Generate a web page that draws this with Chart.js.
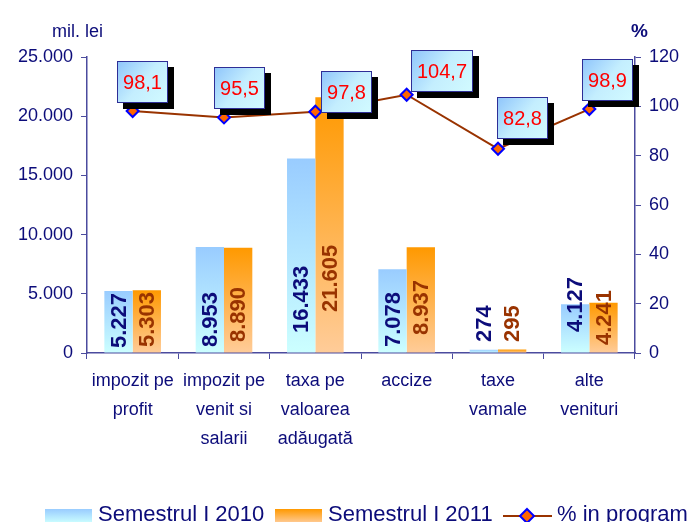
<!DOCTYPE html>
<html>
<head>
<meta charset="utf-8">
<script src="https://cdn.jsdelivr.net/npm/chart.js@4"></script>
<style>
  html, body { margin: 0; padding: 0; background: #fff; overflow: hidden; }
  #wrap { width: 691px; height: 522px; position: relative; }
</style>
</head>
<body>
<div id="wrap"><canvas id="chart" width="691" height="522"></canvas></div>
<script>
// datele graficului
const categories = [
  ['impozit pe', 'profit'],
  ['impozit pe', 'venit si', 'salarii'],
  ['taxa pe', 'valoarea', 'adăugată'],
  ['accize'],
  ['taxe', 'vamale'],
  ['alte', 'venituri']
];
const sem2010 = [5227, 8953, 16433, 7078, 274, 4127];
const sem2011 = [5303, 8890, 21605, 8937, 295, 4241];
const inProgram = [98.1, 95.5, 97.8, 104.7, 82.8, 98.9];
const leftTicks = [0, 5000, 10000, 15000, 20000, 25000];
const rightTicks = [0, 20, 40, 60, 80, 100, 120];
const seriesNames = ['Semestrul I 2010', 'Semestrul I 2011', '% in program'];

// cosmetica etichetelor (deplasari in pixeli)
const lift2010 = [5, 6, 20, 6, 11, 21];
const lift2011 = [6, 11, 41, 18, 11, 8];
const boxShift = [[10, -29], [15, -29], [31, -20], [35, -24], [24, -31], [18, -29]];

const NAVY = '#0c0c7a';
const AXIS = '#4b4b9e';
const FONT = '"Liberation Sans", Arial, sans-serif';

function fmtThousands(v) {
    return String(v).replace(/\B(?=(\d{3})+(?!\d))/g, '.');
}

function barGradient(topColor, bottomColor) {
    return function(ctx) {
        const chart = ctx.chart;
        if (!chart.chartArea || ctx.type !== 'data') return topColor;
        const y = chart.scales.y;
        const yTop = y.getPixelForValue(ctx.raw);
        const yBase = y.getPixelForValue(0);
        const g = chart.ctx.createLinearGradient(0, yTop, 0, Math.max(yBase, yTop + 1));
        g.addColorStop(0, topColor);
        g.addColorStop(1, bottomColor);
        return g;
    };
}

const labelsPlugin = {
    id: 'labelsPlugin',
    afterDatasetsDraw(chart) {
        const ctx = chart.ctx;
        const yScale = chart.scales.y;
        const base = yScale.getPixelForValue(0);

        // valorile verticale pe bare
        [[0, lift2010, NAVY], [1, lift2011, '#993300']].forEach(([di, lifts, color]) => {
            const meta = chart.getDatasetMeta(di);
            meta.data.forEach((bar, i) => {
                const value = chart.data.datasets[di].data[i];
                ctx.save();
                ctx.translate(bar.x, base - lifts[i]);
                ctx.rotate(-Math.PI / 2);
                ctx.font = 'bold 22px ' + FONT;
                ctx.fillStyle = color;
                ctx.textAlign = 'left';
                ctx.textBaseline = 'middle';
                ctx.fillText(fmtThousands(value), 0, 1);
                ctx.restore();
            });
        });

        // casetele cu procente
        const lineMeta = chart.getDatasetMeta(2);
        lineMeta.data.forEach((pt, i) => {
            const text = String(inProgram[i]).replace('.', ',');
            ctx.save();
            ctx.font = '20px ' + FONT;
            const w = Math.round(ctx.measureText(text).width) + 12;
            const h = 42;
            const cx = pt.x + boxShift[i][0];
            const cy = pt.y + boxShift[i][1];
            const x0 = Math.round(cx - w / 2), y0 = Math.round(cy - h / 2);
            ctx.fillStyle = '#000';
            ctx.fillRect(x0 + 6, y0 + 6, w, h);
            const g = ctx.createLinearGradient(x0, y0, x0 + w, y0 + h);
            g.addColorStop(0, '#8ec4fb');
            g.addColorStop(0.5, '#c4eefe');
            g.addColorStop(1, '#d2fbff');
            ctx.fillStyle = g;
            ctx.fillRect(x0, y0, w, h);
            ctx.strokeStyle = '#2e2e96';
            ctx.lineWidth = 1;
            ctx.strokeRect(x0 + 0.5, y0 + 0.5, w - 1, h - 1);
            ctx.fillStyle = '#ff0000';
            ctx.textAlign = 'center';
            ctx.textBaseline = 'middle';
            ctx.fillText(text, x0 + w / 2, y0 + h / 2 + 1);
            ctx.restore();
        });
    },
    afterDraw(chart) {
        const ctx = chart.ctx;
        ctx.save();
        // titluri axe
        ctx.fillStyle = NAVY;
        ctx.font = '18px ' + FONT;
        ctx.textBaseline = 'alphabetic';
        ctx.textAlign = 'left';
        ctx.fillText('mil. lei', 52, 37);
        ctx.font = 'bold 19px ' + FONT;
        ctx.fillText('%', 631, 37);

        // legenda
        const ly = 509;
        let g = ctx.createLinearGradient(0, ly, 0, ly + 14);
        g.addColorStop(0, '#99ccff');
        g.addColorStop(1, '#ccffff');
        ctx.fillStyle = g;
        ctx.fillRect(45, ly, 47, 14);
        g = ctx.createLinearGradient(0, ly, 0, ly + 14);
        g.addColorStop(0, '#ff9900');
        g.addColorStop(1, '#ffcc99');
        ctx.fillStyle = g;
        ctx.fillRect(275, ly, 47, 14);

        ctx.strokeStyle = '#993300';
        ctx.lineWidth = 2;
        ctx.beginPath();
        ctx.moveTo(503, 516);
        ctx.lineTo(552, 516);
        ctx.stroke();
        ctx.beginPath();
        ctx.moveTo(527, 509);
        ctx.lineTo(534, 516);
        ctx.lineTo(527, 523);
        ctx.lineTo(520, 516);
        ctx.closePath();
        ctx.fillStyle = '#ff6600';
        ctx.fill();
        ctx.strokeStyle = '#0000ff';
        ctx.stroke();

        ctx.fillStyle = NAVY;
        ctx.font = '22px ' + FONT;
        ctx.textBaseline = 'alphabetic';
        ctx.fillText(seriesNames[0], 98, 521);
        ctx.fillText(seriesNames[1], 328, 521);
        ctx.fillText(seriesNames[2], 557, 521);
        ctx.restore();
    }
};

const ctx = document.getElementById('chart').getContext('2d');
new Chart(ctx, {
    data: {
        labels: categories,
        datasets: [
            {
                type: 'bar',
                label: seriesNames[0],
                data: sem2010,
                yAxisID: 'y',
                backgroundColor: barGradient('#99ccff', '#ccffff'),
                borderWidth: 0,
                categoryPercentage: 0.62,
                barPercentage: 1,
                order: 2
            },
            {
                type: 'bar',
                label: seriesNames[1],
                data: sem2011,
                yAxisID: 'y',
                backgroundColor: barGradient('#ff9900', '#ffcc99'),
                borderWidth: 0,
                categoryPercentage: 0.62,
                barPercentage: 1,
                order: 2
            },
            {
                type: 'line',
                label: seriesNames[2],
                data: inProgram,
                yAxisID: 'y2',
                borderColor: '#993300',
                borderWidth: 2,
                tension: 0,
                pointStyle: 'rectRot',
                pointRadius: 6,
                pointBackgroundColor: '#ff6600',
                pointBorderColor: '#0000ff',
                pointBorderWidth: 2,
                order: 1
            }
        ]
    },
    options: {
        responsive: false,
        animation: false,
        layout: { padding: { top: 57, left: 0, right: 0, bottom: 0 } },
        plugins: {
            legend: { display: false },
            tooltip: { enabled: false },
            title: { display: false }
        },
        scales: {
            x: {
                grid: {
                    offset: true,
                    drawOnChartArea: false,
                    drawTicks: true,
                    tickLength: 6,
                    color: AXIS
                },
                border: { color: AXIS, width: 1.5 },
                ticks: {
                    color: NAVY,
                    font: { family: FONT, size: 18, lineHeight: 1.6 },
                    padding: 8,
                    maxRotation: 0,
                    autoSkip: false
                },
                afterFit(scale) { scale.height = 169; }
            },
            y: {
                position: 'left',
                min: 0,
                max: 25000,
                afterBuildTicks(scale) { scale.ticks = leftTicks.map(v => ({ value: v })); },
                grid: { drawOnChartArea: false, tickLength: 6, color: AXIS },
                border: { color: AXIS, width: 1.5 },
                ticks: {
                    color: NAVY,
                    font: { family: FONT, size: 18 },
                    padding: 8,
                    callback: v => fmtThousands(v)
                },
                afterFit(scale) { scale.width = 87; }
            },
            y2: {
                position: 'right',
                min: 0,
                max: 120,
                afterBuildTicks(scale) { scale.ticks = rightTicks.map(v => ({ value: v })); },
                grid: { drawOnChartArea: false, tickLength: 6, color: AXIS },
                border: { color: AXIS, width: 1.5 },
                ticks: {
                    color: NAVY,
                    font: { family: FONT, size: 18 },
                    padding: 8
                },
                afterFit(scale) { scale.width = 56; }
            }
        }
    },
    plugins: [labelsPlugin]
});
</script>
</body>
</html>
